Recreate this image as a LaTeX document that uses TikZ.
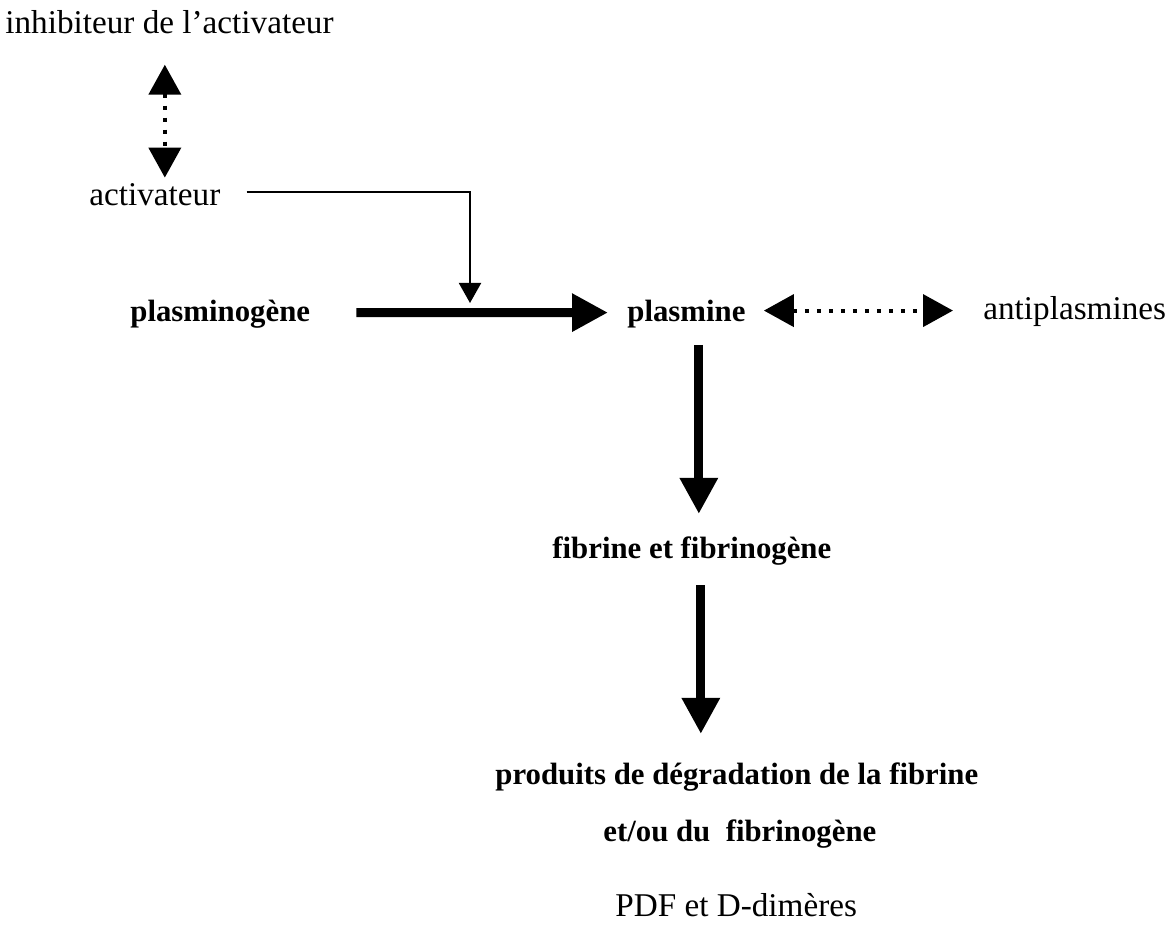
\documentclass[tikz,border=0pt]{standalone}
\usepackage{fontspec}
\setmainfont{Liberation Serif}
\usetikzlibrary{arrows.meta}
\tikzset{
  lbl/.style = {inner sep=0pt, anchor=base west, font=\fontsize{16.6}{20}\selectfont},
  lbl_b/.style = {lbl, font=\fontsize{15.4}{20}\selectfont\bfseries},% texte gras
  fl_gros/.style = {line width=4.5pt, -{Triangle[length=18pt,width=18pt]}},% fleche epaisse
  fl_fin/.style = {line width=1pt, -{Triangle[length=10pt,width=11pt]}},% fleche fine
  fl_pt/.style = {line width=2pt, dash pattern=on 2pt off 4pt,
    {Triangle[length=15pt,width=16pt]}-{Triangle[length=15pt,width=16pt]}}% double fleche pointillee
}

\begin{document}
\begin{tikzpicture}[x=0.5pt,y=-0.5pt]
\useasboundingbox (0,0) rectangle (1168,930);
\node [lbl] (inhib) at (5,34) {inhibiteur de l’activateur};
\node [lbl] (act) at (89,206) {activateur};
\node [lbl_b] (pgene) at (130,322) {plasminogène};
\node [lbl_b] (plasm) at (627,322) {plasmine};
\node [lbl] (anti) at (983,320) {antiplasmines};
\node [lbl_b] (fib) at (552,559) {fibrine et fibrinogène};
\node [lbl_b] (prod) at (495,784) {produits de dégradation de la fibrine};
\node [lbl_b] (etou) at (603,841) {et/ou du\ \ fibrinogène};
\node [lbl] (pdf) at (615,916) {PDF et D-dimères};
\coordinate (jonc) at (470,303);

\draw [fl_pt, shorten <=15pt, shorten >=3pt]
  ([xshift=5pt]act.north |- inhib.south) -- ([xshift=5pt]act.north);
\draw [fl_fin, shorten <=13pt] ([yshift=1.5pt]act.east) -| (jonc);
\draw [fl_gros, shorten <=23pt, shorten >=9.5pt]
  ([yshift=1pt]pgene.east) -- ([yshift=1pt]plasm.west);
\draw [fl_pt, shorten <=9pt, shorten >=15pt]
  ([yshift=2pt]plasm.east) -- ([yshift=2pt]plasm.east -| anti.west);
\draw [fl_gros, shorten <=8pt, shorten >=11.5pt]
  ([xshift=3.5pt]plasm.south -| fib.north) -- ([xshift=3.5pt]fib.north);
\draw [fl_gros, shorten <=9.5pt, shorten >=14pt]
  ([xshift=4.5pt]fib.south) -- ([xshift=4.5pt]fib.south |- prod.north);
\end{tikzpicture}
\end{document}
